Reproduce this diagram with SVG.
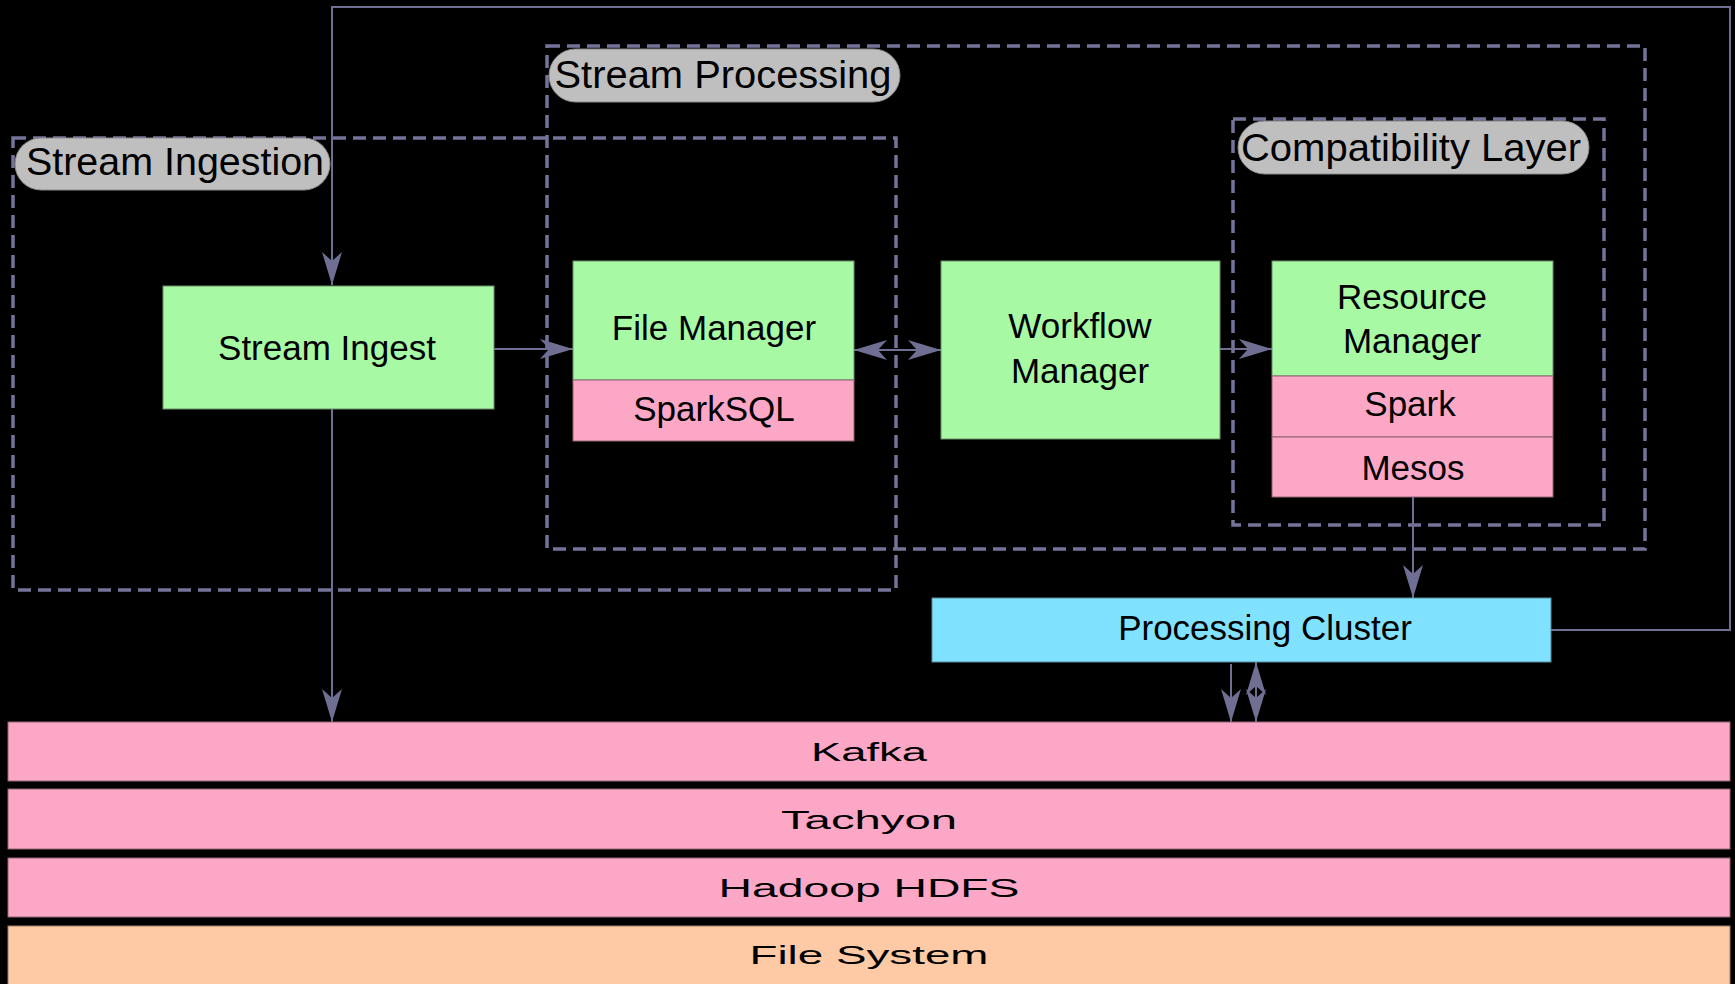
<svg xmlns="http://www.w3.org/2000/svg" width="1735" height="984" viewBox="0 0 1735 984">
  <defs>
    <style>
      .grp { fill: none; stroke: #74749a; stroke-width: 3.5; stroke-dasharray: 13 7; }
      .pill { fill: #bfbfbf; stroke: #8a8a8a; stroke-width: 1; }
      .pilltxt { font-family: "Liberation Sans", Arial, sans-serif; font-size: 39px; fill: #000; text-anchor: middle; }
      .green { fill: #a7f9a4; stroke: #6a8f68; stroke-width: 1; }
      .pink { fill: #fda7c7; stroke: #8e6474; stroke-width: 1; }
      .cyan { fill: #80e2ff; stroke: #5b8c9c; stroke-width: 1; }
      .peach { fill: #fdcaa5; stroke: #9a7c68; stroke-width: 1; }
      .txt { font-family: "Liberation Sans", Arial, sans-serif; font-size: 35px; fill: #000; text-anchor: middle; }
      .bar { font-family: "Liberation Sans", Arial, sans-serif; font-size: 25px; fill: #000; text-anchor: middle; }
      .conn { fill: none; stroke: #6f6f94; stroke-width: 2; }
    </style>
    <marker id="arr" markerUnits="userSpaceOnUse" markerWidth="40" markerHeight="24" viewBox="-34 -12 36 24" refX="0" refY="0" orient="auto-start-reverse">
      <path d="M0,0 L-33,-10 L-24,0 L-33,10 Z" fill="#6f6f94"/>
    </marker>
  </defs>
  <rect x="0" y="0" width="1735" height="984" fill="#000"/>

  <!-- Group containers -->
  <g id="stream-processing">
    <rect class="grp" x="547" y="46" width="1098" height="503"/>
    <rect class="pill" x="549" y="49" width="351" height="53" rx="26.5"/>
    <text class="pilltxt" x="723" y="88" textLength="337" lengthAdjust="spacingAndGlyphs">Stream Processing</text>
  </g>
  <g id="stream-ingestion">
    <rect class="grp" x="13" y="138" width="883" height="452"/>
    <rect class="pill" x="15" y="138" width="315" height="52" rx="26"/>
    <text class="pilltxt" x="175" y="175" textLength="298" lengthAdjust="spacingAndGlyphs">Stream Ingestion</text>
  </g>
  <g id="compatibility-layer">
    <rect class="grp" x="1233" y="119" width="371" height="406"/>
    <rect class="pill" x="1238" y="121" width="351" height="53" rx="26.5"/>
    <text class="pilltxt" x="1411" y="161" textLength="340" lengthAdjust="spacingAndGlyphs">Compatibility Layer</text>
  </g>

  <!-- Connectors -->
  <g id="connectors">
    <line class="conn" x1="494" y1="349" x2="573" y2="349" marker-end="url(#arr)"/>
    <line class="conn" x1="854" y1="350" x2="941" y2="350" marker-start="url(#arr)" marker-end="url(#arr)"/>
    <line class="conn" x1="1220" y1="349" x2="1272" y2="349" marker-end="url(#arr)"/>
    <line class="conn" x1="1413" y1="497" x2="1413" y2="598" marker-end="url(#arr)"/>
    <path class="conn" d="M1551,630 H1730 V7 H332 V285" marker-end="url(#arr)"/>
    <line class="conn" x1="332" y1="409" x2="332" y2="722" marker-end="url(#arr)"/>
    <line class="conn" x1="1231" y1="664" x2="1231" y2="722" marker-end="url(#arr)"/>
    <line class="conn" x1="1256" y1="662" x2="1256" y2="722" marker-start="url(#arr)" marker-end="url(#arr)"/>
  </g>

  <!-- Nodes -->
  <g id="stream-ingest">
    <rect class="green" x="163" y="286" width="331" height="123"/>
    <text class="txt" x="327" y="360">Stream Ingest</text>
  </g>
  <g id="file-manager">
    <rect class="green" x="573" y="261" width="281" height="119"/>
    <text class="txt" x="714" y="340">File Manager</text>
    <rect class="pink" x="573" y="380" width="281" height="61"/>
    <text class="txt" x="714" y="421">SparkSQL</text>
  </g>
  <g id="workflow-manager">
    <rect class="green" x="941" y="261" width="279" height="178"/>
    <text class="txt" x="1080" y="338">Workflow</text>
    <text class="txt" x="1080" y="383">Manager</text>
  </g>
  <g id="resource-manager">
    <rect class="green" x="1272" y="261" width="281" height="115"/>
    <text class="txt" x="1412" y="309">Resource</text>
    <text class="txt" x="1412" y="353">Manager</text>
    <rect class="pink" x="1272" y="376" width="281" height="61"/>
    <text class="txt" x="1410" y="416">Spark</text>
    <rect class="pink" x="1272" y="437" width="281" height="60"/>
    <text class="txt" x="1413" y="480">Mesos</text>
  </g>
  <g id="processing-cluster">
    <rect class="cyan" x="932" y="598" width="619" height="64"/>
    <text class="txt" x="1265" y="640">Processing Cluster</text>
  </g>
  <g id="kafka">
    <rect class="pink" x="8" y="722" width="1722" height="59"/>
    <text class="bar" x="869" y="761" textLength="116" lengthAdjust="spacingAndGlyphs">Kafka</text>
  </g>
  <g id="tachyon">
    <rect class="pink" x="8" y="789" width="1722" height="60"/>
    <text class="bar" x="869" y="829" textLength="176" lengthAdjust="spacingAndGlyphs">Tachyon</text>
  </g>
  <g id="hadoop-hdfs">
    <rect class="pink" x="8" y="858" width="1722" height="59"/>
    <text class="bar" x="869" y="897" textLength="301" lengthAdjust="spacingAndGlyphs">Hadoop HDFS</text>
  </g>
  <g id="file-system">
    <rect class="peach" x="8" y="926" width="1722" height="62"/>
    <text class="bar" x="869" y="964" textLength="239" lengthAdjust="spacingAndGlyphs">File System</text>
  </g>
</svg>
